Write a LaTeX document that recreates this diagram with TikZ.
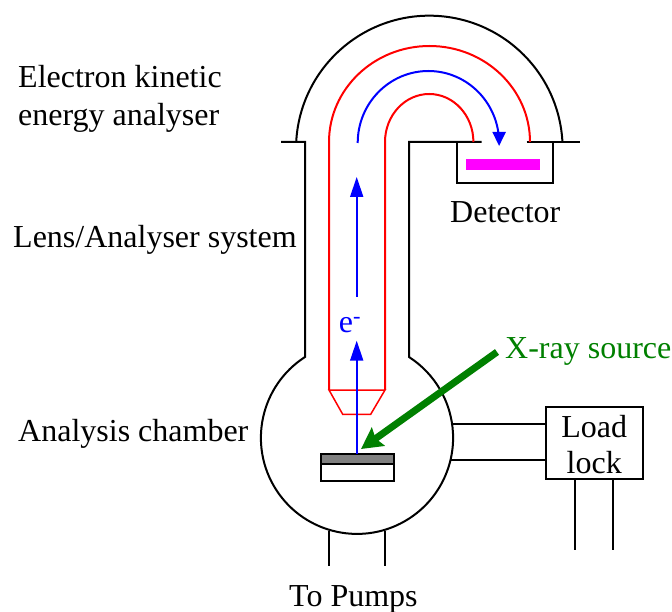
\documentclass[tikz,border=0pt]{standalone}
\usepackage{xcolor}
\usepackage{fontspec}
\setmainfont{Liberation Serif}
\usetikzlibrary{arrows.meta, positioning}
\definecolor{xraygreen}{RGB}{0,128,0}
\definecolor{purepink}{RGB}{255,0,255}
\definecolor{pureblue}{RGB}{0,0,255}
\definecolor{purered}{RGB}{255,0,0}
\tikzset{
    wall/.style={draw=black, line width=2pt},
    optic/.style={draw=purered, line width=2pt},
    beam/.style={-{Triangle[length=20pt,width=13pt]}, draw=pureblue, fill=none, line width=2pt},
    beambend/.style={-{Triangle[length=14pt,width=13pt]}, draw=pureblue, fill=none, line width=2pt},
    xray/.style={-{Stealth[length=21pt,width=22pt,inset=3pt]}, draw=xraygreen, line width=7pt},
    label/.style={inner sep=0pt, font=\fontsize{32}{36}\selectfont, align=center},
}
\begin{document}
\begin{tikzpicture}[x=1pt, y=-1pt]
    \useasboundingbox (0,0) rectangle (672,612);

    \node[label, anchor=base west] (analyser) at (18,88) {Electron kinetic};
    \node[label, anchor=base west] (analyser2) at (18,126) {energy analyser};
    \node[label, anchor=base west] (lens) at (13,248) {Lens/Analyser system};
    \node[label, anchor=base west] (chamber) at (18,441) {Analysis chamber};
    \node[label, anchor=base west] (detector) at (450,223) {Detector};
    \node[label, anchor=base west] (pumps) at (289,606) {To Pumps};
    \node[label, anchor=base west, text=xraygreen] (source) at (505,359) {X-ray source};
    \node[label, anchor=base, text=pureblue] (electron) at (350,333) {e\textsuperscript{-}};

    \node[draw=black, line width=2pt, minimum width=96.5pt, minimum height=72pt, inner sep=0pt,
          anchor=north west] (loadlock) at (545,406) {};
    \node[label] (loadtext) at ([yshift=-2pt]loadlock.center) {Load\\lock};

    \draw[wall] (281,142) -- (305,142) -- (305,357)
        arc[start angle=237.24, end angle=-57.24, radius=96.1] -- (409,142) -- (481.7,142);
    \draw[wall] (526.7,142) -- (580,142);
    \draw[wall] (457,142) -- (457,183) -- (553,183) -- (553,142);
    \draw[wall] (296.2,142) arc[start angle=183, end angle=357, radius=133.3];

    \fill[purepink] (466,159) rectangle (540,170);

    \draw[optic] (329,390) -- (329,142) arc[start angle=180, end angle=360, x radius=100.5, y radius=96];
    \draw[optic] (385,390) -- (385,142) arc[start angle=180, end angle=360, x radius=44.2, y radius=48];
    \draw[purered, line width=1.5pt] (329,390) -- (385,390) -- (370.7,414.3) -- (342.7,414.3) -- cycle;

    \draw[wall, fill=gray] (321,454) rectangle (393.7,463.7);
    \draw[wall] (321,463.7) rectangle (393.7,481.3);

    \coordinate (sample) at (356.7,454);
    \coordinate (lenstop) at (356.7,297);
    \draw[beam] (sample) -- (356.7,340.7);
    \draw[beam] (lenstop) -- (356.7,177);
    \draw[beambend] (357.7,143) arc[start angle=180, end angle=360, x radius=70.7, y radius=72] -- (499.1,146);

    \coordinate (tube) at (497,352);
    \draw[xray] (tube) -- (361,449);

    \draw[wall] (451,424.3) -- (545,424.3);
    \draw[wall] (451,460.3) -- (545,460.3);
    \draw[wall] (575,478.3) -- (575,550);
    \draw[wall] (613,478.3) -- (613,550);
    \draw[wall] (329,531) -- (329,565.7);
    \draw[wall] (385,531) -- (385,565.7);
\end{tikzpicture}
\end{document}
